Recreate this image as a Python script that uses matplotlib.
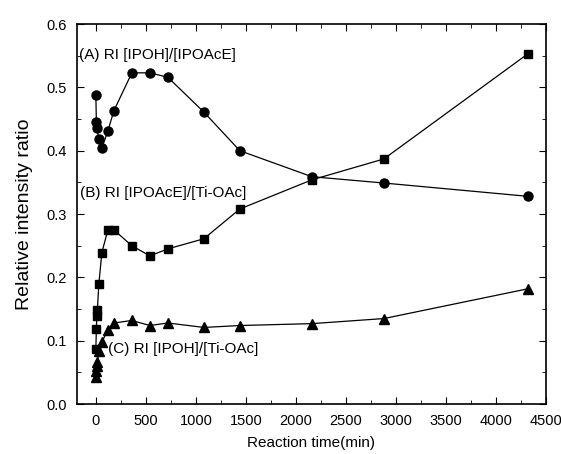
import matplotlib
matplotlib.use("Agg")
import matplotlib.pyplot as plt
from matplotlib.ticker import MultipleLocator

plt.rcParams['font.family'] = ['Liberation Sans', 'DejaVu Sans']

# Tempos de reação (min)
t_a = [0, 5, 8, 30, 60, 120, 180, 360, 540, 720, 1080, 1440, 2160, 2880, 4320]
t_bc = [0, 5, 10, 15, 30, 60, 120, 180, 360, 540, 720, 1080, 1440, 2160, 2880, 4320]

# (A) RI [IPOH]/[IPOAcE]
ri_a = [0.488, 0.446, 0.436, 0.418, 0.404, 0.431, 0.463, 0.523, 0.523, 0.516,
        0.461, 0.400, 0.359, 0.349, 0.328]
# (B) RI [IPOAcE]/[Ti-OAc]
ri_b = [0.087, 0.118, 0.139, 0.148, 0.190, 0.239, 0.275, 0.275, 0.250, 0.234,
        0.245, 0.261, 0.308, 0.354, 0.387, 0.553]
# (C) RI [IPOH]/[Ti-OAc]
ri_c = [0.042, 0.052, 0.060, 0.067, 0.083, 0.098, 0.117, 0.128, 0.132, 0.124,
        0.128, 0.121, 0.124, 0.127, 0.135, 0.182]

fig = plt.figure(figsize=(5.61, 4.54), dpi=100)
ax = fig.add_axes([0.137, 0.110, 0.836, 0.837])

ax.plot(t_a, ri_a, '-o', color='black', lw=0.9, ms=6.5)
ax.plot(t_bc, ri_b, '-s', color='black', lw=0.9, ms=6)
ax.plot(t_bc, ri_c, '-^', color='black', lw=0.9, ms=6.5)

ax.text(-165, 0.551, '(A) RI [IPOH]/[IPOAcE]', fontsize=11, va='center')
ax.text(-155, 0.333, '(B) RI [IPOAcE]/[Ti-OAc]', fontsize=11, va='center')
ax.text(120, 0.087, '(C) RI [IPOH]/[Ti-OAc]', fontsize=11, va='center')

ax.set_xlim(-190, 4500)
ax.set_ylim(0, 0.6)
ax.xaxis.set_major_locator(MultipleLocator(500))
ax.xaxis.set_minor_locator(MultipleLocator(250))
ax.yaxis.set_major_locator(MultipleLocator(0.1))
ax.yaxis.set_minor_locator(MultipleLocator(0.05))
ax.set_yticklabels([f'{v:.1f}' for v in ax.get_yticks()])
ax.tick_params(which='both', direction='in', top=True, right=True, labelsize=10.5)
ax.tick_params(which='major', length=5, pad=7)
ax.tick_params(which='minor', length=3)
for s in ax.spines.values():
    s.set_linewidth(1.2)

ax.set_xlabel('Reaction time(min)', fontsize=11, labelpad=6)
ax.set_ylabel('Relative intensity ratio', fontsize=14, labelpad=10)

fig.savefig('out.png', dpi=100)
